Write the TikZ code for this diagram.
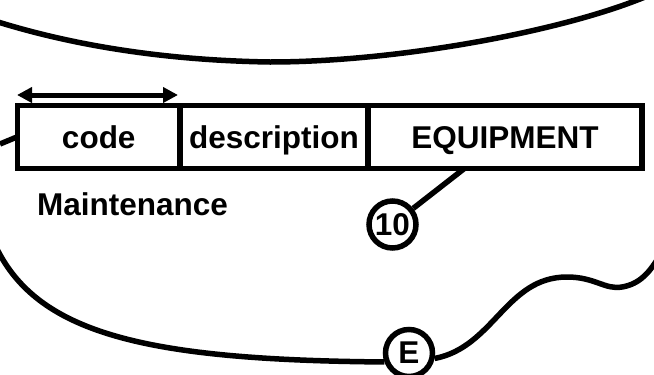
\documentclass[tikz,border=0pt]{standalone}
\usepackage{fontspec}
\setmainfont{Liberation Sans}
\usetikzlibrary{arrows.meta}
\newcommand{\erfont}{\fontsize{31.5}{36}\selectfont\bfseries}
\begin{document}
\begin{tikzpicture}[x=1pt,y=-1pt,line width=5.5pt,
  fld/.style={draw,rectangle,inner sep=0pt,outer sep=0pt,minimum height=63pt,text height=25pt,text depth=2pt,font=\erfont},
  rel/.style={draw,circle,inner sep=0pt,minimum size=47pt,fill=white,font=\erfont},
  lbl/.style={font=\erfont,inner sep=0pt},
  tipped/.style={{Triangle[length=15pt,width=15pt]}-{Triangle[length=15pt,width=15pt]},line width=5pt}]
\useasboundingbox (0,0) rectangle (654,375);
\clip (0,0) rectangle (654,375);
% fields
\node[fld,minimum width=162.5pt] (code) at (98.75,136.75) {code};
\node[fld,minimum width=188pt] (desc) at (274,136.75) {description};
\node[fld,minimum width=274pt] (equip) at (505,136.75) {EQUIPMENT};
\node[lbl] (maint) at (132.5,204) {Maintenance};
\node[rel] (c10) at (392.5,224.5) {10};
\node[rel] (cE) at (409,353) {E};
% coordinates
\coordinate (tl) at (-2,22);
\coordinate (tm) at (270,62);
\coordinate (tr) at (652,-6);
\coordinate (bl) at (-3,249);
\coordinate (bp) at (567,277);
\coordinate (bt) at (622,287);
\coordinate (br) at (660,255);
\coordinate (ll) at (0,144);
\coordinate (a1) at (17,95);
\coordinate (a2) at (178,95);
% curves
\draw (tl) .. controls (50,38) and (140,60) .. (tm) .. controls (400,62) and (570,30) .. (tr);
\draw (bl) .. controls (40,335) and (150,360) .. (cE.200);
\draw (cE.-12) .. controls (494,347) and (506,277) .. (bp) .. controls (595,277) and (605,290) .. (bt) .. controls (640,284) and (650,272) .. (br);
% connectors
\draw (ll) -- (code.west);
\draw (c10) -- (equip.218);
\draw[tipped] (a1) -- (a2);
\end{tikzpicture}
\end{document}
